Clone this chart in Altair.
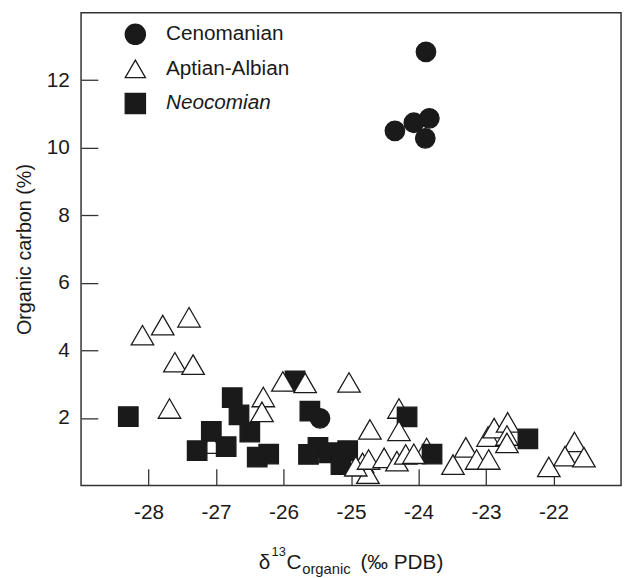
import altair as alt
import pandas as pd

# ---- data ----
ages = ["Cenomanian", "Aptian-Albian", "Neocomian"]

cen_x = [-23.89, -24.35, -24.07, -23.84, -23.90, -25.46]
cen_y = [12.84, 10.50, 10.74, 10.87, 10.28, 1.99]

# Aptian-Albian points partly hidden behind squares
apt_under_x = [-27.07, -24.29, -23.88]
apt_under_y = [1.24, 2.28, 1.11]

# Aptian-Albian points drawn above squares
apt_x = [-28.09, -27.79, -27.40, -27.61, -27.34, -27.69, -26.01, -25.68, -25.03,
         -26.30, -26.32, -24.72, -24.29, -24.83, -24.75, -24.93, -24.74, -24.51,
         -24.32, -24.19, -24.07, -23.49, -23.30, -23.14, -22.96, -22.97, -22.88,
         -22.68, -22.69, -22.69, -22.07, -21.69, -21.83, -21.55]
apt_y = [4.45, 4.75, 4.98, 3.65, 3.58, 2.28, 3.08, 3.04, 3.05,
         2.62, 2.18, 1.66, 1.62, 0.67, 0.35, 0.57, 0.77, 0.82,
         0.72, 0.92, 0.94, 0.62, 1.13, 0.77, 0.77, 1.45, 1.70,
         1.87, 1.48, 1.26, 0.55, 1.29, 0.87, 0.84]

neo_x = [-28.30, -26.76, -26.66, -26.50, -27.07, -27.28, -26.85, -26.39, -26.22,
         -25.83, -25.61, -25.49, -25.63, -25.32, -25.05, -25.15, -24.17, -23.80,
         -22.38]
neo_y = [2.04, 2.60, 2.09, 1.58, 1.60, 1.03, 1.15, 0.84, 0.93,
         3.10, 2.20, 1.13, 0.92, 0.97, 1.03, 0.62, 2.03, 0.93,
         1.38]

x_ticks = [-28, -27, -26, -25, -24, -23, -22]
y_ticks = [2, 4, 6, 8, 10, 12]

# ---- table in drawing order ----
rows = []
rows += [("Aptian-Albian", x, y) for x, y in zip(apt_under_x, apt_under_y)]
rows += [("Neocomian", x, y) for x, y in zip(neo_x, neo_y)]
rows += [("Aptian-Albian", x, y) for x, y in zip(apt_x, apt_y)]
rows += [("Cenomanian", x, y) for x, y in zip(cen_x, cen_y)]
df = pd.DataFrame(rows, columns=["age", "d13c", "corg"])

W, H = 547, 479
FONT = "Liberation Sans"
INK = "#1a1a1a"

legend = alt.Legend(
    title=None, orient="none", legendX=44, legendY=11, padding=0,
    labelFontSize=21, labelFont=FONT, labelColor=INK, labelOffset=20,
    symbolSize=420, symbolStrokeColor=INK, symbolStrokeWidth=1.3,
    symbolOpacity=1, rowPadding=10,
    labelFontStyle={"expr": "datum.label == 'Neocomian' ? 'italic' : 'normal'"},
)

points = alt.Chart(df).mark_point(opacity=1, strokeWidth=1.3).encode(
    x=alt.X("d13c:Q",
            scale=alt.Scale(domain=[-29, -21], nice=False, zero=False),
            axis=alt.Axis(values=x_ticks, title=None, offset=-17, tickSize=17,
                          domain=False, grid=False, labelPadding=16,
                          labelFontSize=21, labelFont=FONT, labelColor=INK,
                          labelExpr="'' + datum.value",
                          tickColor="#333", tickWidth=1.3)),
    y=alt.Y("corg:Q",
            scale=alt.Scale(domain=[0, 14], nice=False, zero=False),
            axis=alt.Axis(values=y_ticks, title="Organic carbon (%)", offset=-17,
                          tickSize=17, domain=False, grid=False, labelPadding=12,
                          labelFontSize=21, labelFont=FONT, labelColor=INK,
                          titleFontSize=20, titleFont=FONT, titleColor=INK,
                          titleFontWeight="normal", titlePadding=12,
                          tickColor="#333", tickWidth=1.3)),
    shape=alt.Shape("age:N", scale=alt.Scale(domain=ages,
                    range=["circle", "triangle-up", "square"]), legend=legend),
    fill=alt.Fill("age:N", scale=alt.Scale(domain=ages,
                  range=[INK, "white", INK]), legend=legend),
    stroke=alt.Stroke("age:N", scale=alt.Scale(domain=ages,
                      range=[INK, INK, INK]), legend=legend),
    size=alt.condition("datum.age == 'Aptian-Albian'", alt.value(520), alt.value(390)),
)

def txt(s, x, y, size):
    return alt.Chart(pd.DataFrame({"t": [s]})).mark_text(
        text=s, align="left", baseline="alphabetic", fontSize=size,
        font=FONT, color=INK
    ).encode(x=alt.value(x), y=alt.value(y))

title_parts = [
    txt("δ", 180, 564, 21),
    txt("13", 193, 550, 13),
    txt("C", 208, 564, 21),
    txt("organic", 224, 569, 15),
    txt("(‰ PDB)", 283, 564, 21),
]

chart = alt.layer(points, *title_parts).properties(
    width=W, height=H,
    autosize=alt.AutoSizeParams(type="none"),
    padding={"left": 74, "top": 1, "right": 3, "bottom": 90},
    background="white",
).configure_view(stroke="#333", strokeWidth=1.5)

chart.save("out.html", embed_options={"renderer": "svg", "actions": False})
